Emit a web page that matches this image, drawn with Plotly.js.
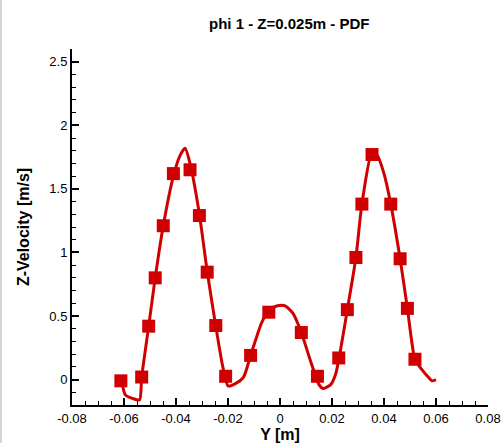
<!DOCTYPE html>
<html>
<head>
<meta charset="utf-8">
<script src="https://cdn.plot.ly/plotly-3.0.1.min.js"></script>
<style>
  html, body { margin: 0; padding: 0; background: #fff; }
  #chart { width: 503px; height: 443px; }
  #edge { position: absolute; left: 0; top: 0; width: 2px; height: 443px; background: #d4d4d4; }
</style>
</head>
<body>
<div id="chart"></div>
<div id="edge"></div>
<script>
// Marker (measured) points
const markerY = [-0.0612, -0.0532, -0.0505, -0.0480, -0.0449, -0.0410, -0.0346, -0.0310, -0.0280, -0.0247, -0.0209,
                 -0.0113, -0.0043, 0.0082, 0.0144, 0.0226, 0.0259, 0.0292, 0.0315, 0.0354, 0.0426, 0.0462, 0.0490, 0.0519];
const markerV = [-0.01, 0.02, 0.42, 0.80, 1.21, 1.62, 1.65, 1.29, 0.845, 0.425, 0.026,
                 0.19, 0.53, 0.37, 0.026, 0.17, 0.55, 0.96, 1.38, 1.77, 1.38, 0.95, 0.56, 0.16];

// Continuous (computed) profile
const lineY = [-0.0610, -0.0595, -0.0565, -0.0540, -0.0532, -0.0505, -0.0480, -0.0449, -0.0410, -0.0385, -0.0365,
               -0.0346, -0.0310, -0.0280, -0.0247, -0.0220, -0.0200, -0.0170, -0.0140, -0.0113, -0.0070, -0.0040,
               -0.0010, 0.0020, 0.0050, 0.0082, 0.0120, 0.0150, 0.0165, 0.0195, 0.0215, 0.0230, 0.0259, 0.0292,
               0.0315, 0.0354, 0.0375, 0.0400, 0.0426, 0.0462, 0.0490, 0.0519, 0.0545, 0.0570, 0.0585, 0.0600];
const lineV = [0.00, -0.12, -0.15, -0.16, 0.02, 0.42, 0.80, 1.21, 1.60, 1.76, 1.82,
               1.70, 1.30, 0.85, 0.42, 0.10, -0.05, -0.03, 0.02, 0.19, 0.45, 0.55,
               0.58, 0.58, 0.52, 0.37, 0.13, -0.04, -0.07, -0.04, 0.05, 0.20, 0.55, 0.96,
               1.38, 1.79, 1.76, 1.62, 1.38, 0.95, 0.56, 0.16, 0.08, 0.02, -0.01, 0.00];

const xTickVals = [-0.08, -0.06, -0.04, -0.02, 0, 0.02, 0.04, 0.06, 0.08];
const xTickText = ["-0.08", "-0.06", "-0.04", "-0.02", "0", "0.02", "0.04", "0.06", "0.08"];
const yTickVals = [0, 0.5, 1, 1.5, 2, 2.5];
const yTickText = ["0", "0.5", "1", "1.5", "2", "2.5"];

const red = "rgb(208,0,0)";

const traces = [
  {
    x: lineY, y: lineV, type: "scatter", mode: "lines",
    line: { color: red, width: 3, shape: "spline", smoothing: 0.6 },
    hoverinfo: "skip", showlegend: false
  },
  {
    x: markerY, y: markerV, type: "scatter", mode: "markers",
    marker: { symbol: "square", size: 13, color: red, line: { width: 0 } },
    showlegend: false
  }
];

const layout = {
  width: 503, height: 443,
  margin: { l: 72, r: 15, t: 49, b: 38 },
  paper_bgcolor: "#fff", plot_bgcolor: "#fff",
  font: { family: "Liberation Sans, Arial, sans-serif", color: "#000", size: 13 },
  title: {
    text: "<b>phi 1 - Z=0.025m - PDF</b>",
    font: { size: 15, family: "Liberation Sans, Arial, sans-serif", color: "#000" },
    x: 0.575, xanchor: "center", y: 0.947, yanchor: "middle"
  },
  xaxis: {
    range: [-0.08, 0.08],
    tickvals: xTickVals, ticktext: xTickText,
    ticks: "inside", ticklen: 7, tickwidth: 2, tickcolor: "#000",
    minor: { dtick: 0.005, tick0: 0, ticks: "inside", ticklen: 4, tickwidth: 1, tickcolor: "#000" },
    showline: true, linecolor: "#000", linewidth: 2,
    showgrid: false, zeroline: false,
    tickfont: { size: 13, color: "#000" },
    title: { text: "<b>Y [m]</b>", font: { size: 16, color: "#000" }, standoff: 2 }
  },
  yaxis: {
    range: [-0.2, 2.6],
    tickvals: yTickVals, ticktext: yTickText,
    ticks: "inside", ticklen: 7, tickwidth: 2, tickcolor: "#000",
    minor: { dtick: 0.1, tick0: 0, ticks: "inside", ticklen: 4, tickwidth: 1, tickcolor: "#000" },
    showline: true, linecolor: "#000", linewidth: 2,
    showgrid: false, zeroline: false,
    tickfont: { size: 13, color: "#000" },
    title: { text: "<b>Z-Velocity [m/s]</b>", font: { size: 16, color: "#000" }, standoff: 16 }
  }
};

Plotly.newPlot("chart", traces, layout, { displayModeBar: false, staticPlot: true });
</script>
</body>
</html>
